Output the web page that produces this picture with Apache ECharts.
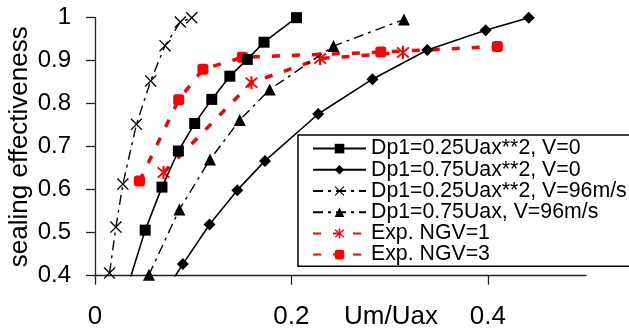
<!DOCTYPE html>
<html>
<head>
<meta charset="utf-8">
<script src="https://cdn.jsdelivr.net/npm/echarts@6/dist/echarts.min.js"></script>
<style>
html,body{margin:0;padding:0;background:#fff;}
#c{width:629px;height:333px;}
</style>
</head>
<body>
<div id="c"></div>
<script>
// Series names
const names = [
  'Dp1=0.25Uax**2, V=0',
  'Dp1=0.75Uax**2, V=0',
  'Dp1=0.25Uax**2, V=96m/s',
  'Dp1=0.75Uax, V=96m/s',
  'Exp. NGV=1',
  'Exp. NGV=3'
];
// Data (x = Um/Uax, y = sealing effectiveness)
const s1x = [0.034, 0.0511, 0.0682, 0.0849, 0.1015, 0.1189, 0.1373, 0.1551, 0.1721, 0.2052];
const s1y = [0.38, 0.506, 0.606, 0.690, 0.754, 0.810, 0.864, 0.903, 0.943, 1.0];
const s2x = [0.062, 0.0895, 0.1166, 0.1449, 0.1731, 0.2273, 0.2825, 0.3384, 0.3978, 0.4417];
const s2y = [0.33, 0.427, 0.519, 0.599, 0.667, 0.776, 0.857, 0.925, 0.971, 1.0];
const s3x = [0.0148, 0.0213, 0.0284, 0.0422, 0.0567, 0.0713, 0.0869, 0.0985];
const s3y = [0.406, 0.513, 0.613, 0.752, 0.853, 0.935, 0.990, 1.0];
const s4x = [0.0549, 0.0859, 0.1171, 0.1474, 0.1779, 0.2428, 0.3146];
const s4y = [0.402, 0.554, 0.670, 0.762, 0.833, 0.934, 0.996];
const e1x = [0.0698, 0.1593, 0.2292, 0.3136];
const e1y = [0.640, 0.849, 0.905, 0.919];
const e3x = [0.0453, 0.0852, 0.1099, 0.150, 0.291, 0.4097];
const e3y = [0.620, 0.809, 0.880, 0.908, 0.920, 0.933];
// Tick labels
const xTicks = [0, 0.2, 0.4];
const yTicks = [0.4, 0.5, 0.6, 0.7, 0.8, 0.9, 1];

const pair = (xs, ys) => xs.map((x, i) => [x, ys[i]]);
const FONT = 'Liberation Sans';
const xMark = 'path://M0.8,0 L10,9.2 L9.2,10 L0,0.8 Z M9.2,0 L10,0.8 L0.8,10 L0,9.2 Z';
const star = 'path://M4.2,0 L5.8,0 L5.8,10 L4.2,10 Z M1,0.6 L10,8.4 L9,9.4 L0,1.6 Z M9,0.6 L10,1.6 L1,9.4 L0,8.4 Z';
const dashDot = [10, 5, 3, 5];

const chart = echarts.init(document.getElementById('c'), null, {renderer: 'canvas'});
chart.setOption({
  animation: false,
  backgroundColor: '#fff',
  grid: {left: 95, right: 43, top: 17.7, bottom: 57.3, containLabel: false, outerBoundsMode: 'none'},
  xAxis: {
    type: 'value', min: 0, max: 0.5,
    name: 'Um/Uax', nameLocation: 'middle', nameGap: 28, nameMoveOverlap: false,
    nameTextStyle: {fontFamily: FONT, fontSize: 26, color: '#000', verticalAlign: 'top', padding: [0, 0, 0, 101]},
    axisLine: {show: true, lineStyle: {color: '#222', width: 1.3}},
    axisTick: {show: true, inside: false, length: 9, customValues: xTicks, lineStyle: {color: '#222', width: 1.3}},
    axisLabel: {customValues: xTicks, margin: 28, fontFamily: FONT, fontSize: 26, color: '#000',
      formatter: v => String(+(+v).toFixed(1))},
    splitLine: {show: false}
  },
  yAxis: {
    type: 'value', min: 0.4, max: 1, interval: 0.1,
    name: 'sealing effectiveness', nameLocation: 'middle', nameGap: 62, nameRotate: 90, nameMoveOverlap: false,
    nameTextStyle: {fontFamily: FONT, fontSize: 26, color: '#000'},
    axisLine: {show: true, lineStyle: {color: '#222', width: 1.3}},
    axisTick: {show: true, inside: false, length: 9, customValues: yTicks, lineStyle: {color: '#222', width: 1.3}},
    axisLabel: {customValues: yTicks, margin: 24, fontFamily: FONT, fontSize: 24, color: '#000',
      formatter: v => String(+(+v).toFixed(1))},
    splitLine: {show: false}
  },
  legend: {
    orient: 'vertical', left: 298, top: 135,
    padding: [3, 10, 1, 14],
    itemGap: 0, itemWidth: 53, itemHeight: 12,
    borderColor: '#000', borderWidth: 1.5, backgroundColor: '#fff',
    textStyle: {fontFamily: FONT, fontSize: 21.3, lineHeight: 21.2, color: '#000'},
    data: names
  },
  series: [
    {name: names[4], type: 'line', data: pair(e1x, e1y), z: 2,
      symbol: star, symbolSize: 13, itemStyle: {color: '#ff0000'},
      lineStyle: {color: '#ff0000', width: 3.5, type: [8, 12]}},
    {name: names[5], type: 'line', data: pair(e3x, e3y), z: 2,
      symbol: 'roundRect', symbolSize: 11, itemStyle: {color: '#ff0000'},
      lineStyle: {color: '#ff0000', width: 3.5, type: [8, 12]}},
    {name: names[0], type: 'line', data: pair(s1x, s1y), z: 3,
      symbol: 'rect', symbolSize: 11, itemStyle: {color: '#000'},
      lineStyle: {color: '#000', width: 1.6, type: 'solid'}},
    {name: names[1], type: 'line', data: pair(s2x, s2y), z: 3,
      symbol: 'diamond', symbolSize: 12, itemStyle: {color: '#000'},
      lineStyle: {color: '#000', width: 1.6, type: 'solid'}},
    {name: names[2], type: 'line', data: pair(s3x, s3y), z: 3,
      symbol: xMark, symbolSize: 12, itemStyle: {color: '#000'},
      lineStyle: {color: '#000', width: 1.4, type: dashDot}},
    {name: names[3], type: 'line', data: pair(s4x, s4y), z: 3,
      symbol: 'triangle', symbolSize: 12, itemStyle: {color: '#000'},
      lineStyle: {color: '#000', width: 1.4, type: dashDot}}
  ]
});
</script>
</body>
</html>
